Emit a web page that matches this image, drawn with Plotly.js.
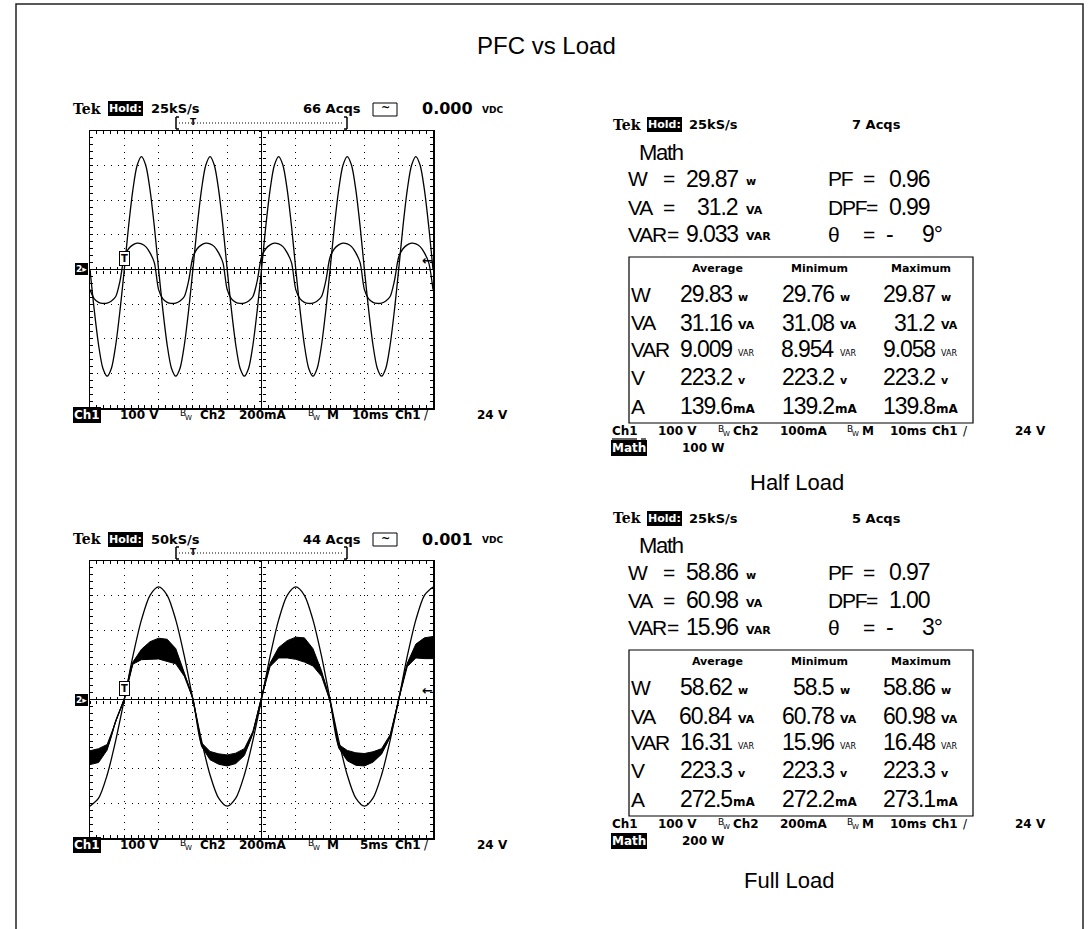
<!DOCTYPE html>
<html><head><meta charset="utf-8">
<script src="https://cdn.plot.ly/plotly-3.0.1.min.js"></script>
<style>html,body{margin:0;padding:0;background:#fff}#chart{width:1090px;height:929px}</style>
</head><body><div id="chart"></div>
<script>
// ---------------- DATA ----------------
// Half load scope: 10 ms/div, samples every 1.25 ms, Ch1 voltage (V), Ch2 current (mA)
const halfVoltage = [
  0,-118,-218,-285,-308,-285,-218,-118, 0,125,230,301,326,301,230,125,
  0,-118,-218,-285,-308,-285,-218,-118, 0,125,230,301,326,301,230,125,
  0,-118,-218,-285,-308,-285,-218,-118, 0,125,230,301,326,301,230,125,
  0,-118,-218,-285,-308,-285,-218,-118, 0,125,230,301,326,301,230,125,
  0,-118,-218,-285,-308,-285,-218,-118, 0,125,230,301,326,301,230,125,
  0];
const halfCurrent = [
  -116,-170,-190,-196,-194,-182,-156,-66, 72,120,142,152,148,132,96,40,
  -116,-170,-190,-196,-194,-182,-156,-66, 72,120,142,152,148,132,96,40,
  -116,-170,-190,-196,-194,-182,-156,-66, 72,120,142,152,148,132,96,40,
  -116,-170,-190,-196,-194,-182,-156,-66, 72,120,142,152,148,132,96,40,
  -116,-170,-190,-196,-194,-182,-156,-66, 72,120,142,152,148,132,96,40,
  -116];
// Full load scope: 5 ms/div, samples every 1.25 ms
const fullVoltage = [
  -308,-285,-218,-118,0,125,230,301,325,301,230,125,0,-118,-218,-285,
  -308,-285,-218,-118,0,125,230,301,325,301,230,125,0,-118,-218,-285,
  -308,-285,-218,-118,0,125,230,301,325];
const fullCurrent = [
  -336,-324,-276,-124,4,210,260,284,294,284,250,144,4,-260,-324,-344,
  -352,-340,-304,-190,10,200,270,290,296,286,244,150,-10,-270,-324,-344,
  -348,-332,-300,-210,0,200,280,296,300];
const fullNoise = [
  40,40,16,0,0,6,30,50,60,64,44,10,0,10,24,30,
  32,30,20,6,0,10,30,50,64,70,50,16,0,10,30,36,
  36,30,16,6,0,10,40,60,64];

// Readout values
const metricLabels = ['W','VA','VAR','V','A'];
const metricUnits  = ['w','VA','VAR','v','mA'];
const statHeaders  = ['Average','Minimum','Maximum'];
const halfAvg = ['29.83','31.16','9.009','223.2','139.6'];
const halfMin = ['29.76','31.08','8.954','223.2','139.2'];
const halfMax = ['29.87','31.2','9.058','223.2','139.8'];
const fullAvg = ['58.62','60.84','16.31','223.3','272.5'];
const fullMin = ['58.5','60.78','15.96','223.3','272.2'];
const fullMax = ['58.86','60.98','16.48','223.3','273.1'];
const mainLabels = ['W','VA','VAR'];
const halfMain = ['29.87','31.2','9.033'];
const fullMain = ['58.86','60.98','15.96'];
const factorLabels = ['PF','DPF','θ'];
const halfFactors = ['0.96','0.99','9°'];
const fullFactors = ['0.97','1.00','3°'];

// ---------------- HELPERS ----------------
const W = 1090, H = 929;
const SF = '"DejaVu Sans", Verdana, sans-serif';
const NF = '"Liberation Sans", Arial, sans-serif';
const TF = '"Liberation Sans", Arial, sans-serif';
const annotations = [], shapes = [];
function txt(text, x, y, o) {
  o = o || {};
  annotations.push({xref:'paper', yref:'paper', x:x/W, y:1-y/H, text:text, showarrow:false,
    xanchor:o.xa||'left', yanchor:o.ya||'middle',
    font:{family:o.f||SF, size:o.s||12, color:o.c||'#000', weight:o.w||'bold'},
    bgcolor:o.bg||'rgba(0,0,0,0)', borderpad:o.bp||0,
    bordercolor:o.bc||'rgba(0,0,0,0)', borderwidth:o.bw||0});
}
// condensed-looking readout text (tighter letter spacing)
function nt(text, x, y, size, xa, ls){
  const sp = (ls===undefined)? -1.1 : ls;
  txt('<span style="letter-spacing:'+sp+'px">'+text+'</span>', x, y, {f:NF, s:size, w:'normal', xa:xa||'left'});
}
function rectPx(x0,y0,x1,y1,o){ o=o||{};
  shapes.push({type:'rect',xref:'paper',yref:'paper',x0:x0/W,x1:x1/W,y0:1-y0/H,y1:1-y1/H,
    line:{color:o.c||'#000',width:o.w||1},fillcolor:o.fill||'rgba(0,0,0,0)'}); }
function linePx(x0,y0,x1,y1,o){ o=o||{};
  shapes.push({type:'line',xref:'paper',yref:'paper',x0:x0/W,x1:x1/W,y0:1-y0/H,y1:1-y1/H,
    line:{color:o.c||'#000',width:o.w||1,dash:o.dash||'solid'}}); }
function bw(x, y){ // bandwidth-limit symbol: B with W below-right
  txt('B', x, y-2, {s:9, w:'normal'});
  txt('W', x+5, y+3, {s:7, w:'normal'});
}
function key(id){ return (id[0]==='x'?'xaxis':'yaxis') + id.slice(1); }

const layout = {width:W, height:H, margin:{l:0,r:0,t:0,b:0}, paper_bgcolor:'#fff', plot_bgcolor:'#fff',
  showlegend:false, annotations:annotations, shapes:shapes, hovermode:false};
const traces = [];

function gridAxis(range, domain, anchor, dotGap){
  return {domain:domain, anchor:anchor, range:range, dtick:1, tick0:0, showgrid:true, gridcolor:'#000',
    gridwidth:1, griddash:'1px,'+dotGap+'px', zeroline:true, zerolinecolor:'#000', zerolinewidth:1.5,
    showline:true, linecolor:'#000', linewidth:1.5, mirror:'ticks', ticks:'inside', ticklen:3,
    tickwidth:1, tickcolor:'#000', showticklabels:false, fixedrange:true,
    minor:{dtick:0.2, tick0:0, ticks:'inside', ticklen:3, tickwidth:1, tickcolor:'#000', showgrid:false}};
}
function centerAxis(over, range, pos, dir){
  return {overlaying:over, anchor:'free', position:pos, range:range, dtick:1, tick0:0, ticks:dir,
    ticklen:3, tickwidth:1, tickcolor:'#000', showgrid:false, zeroline:false, showline:false,
    showticklabels:false, fixedrange:true,
    minor:{dtick:0.2, tick0:0, ticks:dir, ticklen:3, tickwidth:1, tickcolor:'#000', showgrid:false}};
}
function dummy(xa, ya){ traces.push({type:'scatter', x:[null], y:[null], xaxis:xa, yaxis:ya, hoverinfo:'skip', showlegend:false}); }

function scope(ids, dy, cfg){
  const L=90, R=433, T=131+dy, B=408+dy, cy=(T+B)/2;
  const domX=[L/W, R/W], domY=[1-B/H, 1-T/H];
  layout[key(ids.gx)] = gridAxis([-5,5], domX, ids.gy, 5.86);
  layout[key(ids.gy)] = gridAxis([-4,4], domY, ids.gx, 5.925);
  layout[key(ids.dx)] = {overlaying:ids.gx, anchor:ids.gy, range:cfg.timeRange, visible:false, fixedrange:true};
  layout[key(ids.dv)] = {overlaying:ids.gy, anchor:ids.gx, range:[-400,400], visible:false, fixedrange:true};
  layout[key(ids.di)] = {overlaying:ids.gy, anchor:ids.gx, range:[-800,800], visible:false, fixedrange:true};
  layout[key(ids.cx1)] = centerAxis(ids.gx, [-5,5], 1-cy/H, 'outside');
  layout[key(ids.cx2)] = centerAxis(ids.gx, [-5,5], 1-cy/H, 'inside');
  layout[key(ids.cy1)] = centerAxis(ids.gy, [-4,4], ((L+R)/2)/W, 'outside');
  layout[key(ids.cy2)] = centerAxis(ids.gy, [-4,4], ((L+R)/2)/W, 'inside');
  dummy(ids.gx, ids.gy); dummy(ids.cx1, ids.gy); dummy(ids.cx2, ids.gy);
  dummy(ids.gx, ids.cy1); dummy(ids.gx, ids.cy2);

  // header
  txt('Tek', 73, 109+dy, {f:'"DejaVu Serif", serif', s:14});
  txt('Hold:', 108, 109+dy, {s:11, c:'#fff', bg:'#000', bp:1});
  txt(cfg.rate, 151, 109+dy, {s:13});
  txt(cfg.acqs, 303, 109+dy, {s:13});
  rectPx(373, 103+dy, 397, 116+dy, {w:1});
  txt('~', 385, 108+dy, {xa:'center', s:11});
  txt(cfg.vdc, 422, 109+dy, {s:16});
  txt('VDC', 482, 110+dy, {s:9});
  // memory bracket
  linePx(176,117+dy,176,129+dy,{w:1.5}); linePx(176,117+dy,179,117+dy,{w:1.5}); linePx(176,129+dy,179,129+dy,{w:1.5});
  linePx(347,117+dy,347,129+dy,{w:1.5}); linePx(344,117+dy,347,117+dy,{w:1.5}); linePx(344,129+dy,347,129+dy,{w:1.5});
  linePx(179,123+dy,344,123+dy,{w:1,dash:'1px,2px'});
  txt('T', 193, 122+dy, {xa:'center', s:9});
  // markers
  txt('2▸', 81, cy, {xa:'center', s:9, c:'#fff', bg:'#000', bp:1});
  txt('T', 124, 258+dy, {xa:'center', s:10, bg:'#fff', bc:'#000', bw:1, bp:1});
  txt('←', 427, cy-9, {xa:'center', s:13});
  // footer
  const fy = 415+dy;
  txt('Ch1', 73, fy, {s:12, c:'#fff', bg:'#000', bp:1});
  txt('100 V', 120, fy, {s:12});
  bw(180, fy);
  txt('Ch2', 200, fy, {s:12});
  txt('200mA', 239, fy, {s:12});
  bw(308, fy);
  txt('M', 327, fy, {s:12});
  txt(cfg.tdiv, 388, fy, {s:12, xa:'right'});
  txt('Ch1', 395, fy, {s:12});
  txt('/', 424, fy, {s:12, w:'normal'});
  txt('24 V', 477, fy, {s:12});
}

function readout(dy, main, factors, avg, mn, mx, acqs, ch2Scale, mathScale, underline){
  txt('Tek', 613, 125+dy, {f:'"DejaVu Serif", serif', s:14});
  txt('Hold:', 647, 125+dy, {s:11, c:'#fff', bg:'#000', bp:1});
  txt('25kS/s', 689, 125+dy, {s:13});
  txt(acqs, 852, 125+dy, {s:13});
  nt('Math', 639, 152+dy, 22, 'left', -1.3);
  const rowsY = [179, 207, 234];
  const eqX = [669, 669, 673];
  const feqX = [869, 872, 869];
  for (let i=0;i<3;i++){
    const y = rowsY[i]+dy;
    nt(mainLabels[i], 628, y, 21, 'left', -1.2);
    nt('=', eqX[i], y, 21, 'center', 0);
    nt(main[i], 738, y, 23, 'right');
    txt(metricUnits[i], 746, y+3, {s:11});
    nt(factorLabels[i], 828, y, 21, 'left', -1.2);
    nt('=', feqX[i], y, 21, 'center', 0);
    if (i<2) nt(factors[i], 930, y, 23, 'right');
    else { nt('-', 890, y, 23, 'center', 0);
           nt(factors[i], 942, y, 23, 'right'); }
  }
  rectPx(629, 257+dy, 973, 423+dy, {w:1.2});
  const colC = [717, 819, 921], colR = [732, 834, 935];
  statHeaders.forEach((h,j)=> txt(h, colC[j], 268+dy, {s:11, xa:'center'}));
  const tY = [294, 323, 349, 377, 406];
  const cols = [avg, mn, mx];
  for (let i=0;i<5;i++){
    const y = tY[i]+dy;
    nt(metricLabels[i], 631, y, 21, 'left', -1.2);
    for (let j=0;j<3;j++){
      nt(cols[j][i], colR[j], y, 23, 'right');
      const u = metricUnits[i];
      if (u==='VAR') txt(u, colR[j]+6, y+4, {s:8, w:'normal'});
      else if (u==='mA') txt(u, colR[j]+1, y+3, {s:12});
      else txt(u, colR[j]+6, y+3, {s:11});
    }
  }
  const fy = 431+dy;
  txt('Ch1', 612, fy, {s:12});
  if (underline) { linePx(612, fy+8, 637, fy+8, {w:1.2}); linePx(641, fy+8, 646, fy+8, {w:1.2}); }
  txt('100 V', 658, fy, {s:12});
  bw(718, fy);
  txt('Ch2', 733, fy, {s:12});
  txt(ch2Scale, 780, fy, {s:12});
  bw(847, fy);
  txt('M', 862, fy, {s:12});
  txt('10ms', 890, fy, {s:12});
  txt('Ch1', 932, fy, {s:12});
  txt('/', 963, fy, {s:12, w:'normal'});
  txt('24 V', 1015, fy, {s:12});
  txt('Math', 611, 448+dy, {s:12, c:'#fff', bg:'#000', bp:1});
  txt(mathScale, 682, 448+dy, {s:12});
}

// ---------------- BUILD ----------------
rectPx(16, 4, 1083, 940, {w:1.5, c:'#222'});
txt('PFC vs Load', 546, 45, {f:TF, s:24, w:'normal', xa:'center'});
txt('Half Load', 797, 482, {f:TF, s:22, w:'normal', xa:'center'});
txt('Full Load', 789, 880, {f:TF, s:22, w:'normal', xa:'center'});

scope({gx:'x', gy:'y', dx:'x2', dv:'y2', di:'y3', cx1:'x3', cx2:'x4', cy1:'y4', cy2:'y5'}, 0,
      {timeRange:[0,100], rate:'25kS/s', acqs:'66 Acqs', vdc:'0.000', tdiv:'10ms'});
scope({gx:'x5', gy:'y6', dx:'x6', dv:'y7', di:'y8', cx1:'x7', cx2:'x8', cy1:'y9', cy2:'y10'}, 430,
      {timeRange:[0,50], rate:'50kS/s', acqs:'44 Acqs', vdc:'0.001', tdiv:'5ms'});

readout(0, halfMain, halfFactors, halfAvg, halfMin, halfMax, '7 Acqs', '100mA', '100 W', true);
readout(393, fullMain, fullFactors, fullAvg, fullMin, fullMax, '5 Acqs', '200mA', '200 W', false);

const lineStyle = {color:'#000', width:1.3, shape:'spline', smoothing:0.8};
traces.push({type:'scatter', mode:'lines', x0:0, dx:1.25, y:halfVoltage, xaxis:'x2', yaxis:'y2', line:lineStyle, hoverinfo:'skip'});
traces.push({type:'scatter', mode:'lines', x0:0, dx:1.25, y:halfCurrent, xaxis:'x2', yaxis:'y3', line:lineStyle, hoverinfo:'skip'});
traces.push({type:'scatter', mode:'lines', x0:0, dx:1.25, y:fullVoltage, xaxis:'x6', yaxis:'y7', line:lineStyle, hoverinfo:'skip'});
const fullLower = fullCurrent.map((c,i)=>c-fullNoise[i]);
const fullUpper = fullCurrent.map((c,i)=>c+fullNoise[i]);
traces.push({type:'scatter', mode:'lines', x0:0, dx:1.25, y:fullLower, xaxis:'x6', yaxis:'y8', line:{color:'#000', width:1}, hoverinfo:'skip'});
traces.push({type:'scatter', mode:'lines', x0:0, dx:1.25, y:fullUpper, xaxis:'x6', yaxis:'y8', fill:'tonexty', fillcolor:'#000', line:{color:'#000', width:1}, hoverinfo:'skip'});
traces.push({type:'scatter', mode:'lines', x0:0, dx:1.25, y:fullCurrent, xaxis:'x6', yaxis:'y8', line:lineStyle, hoverinfo:'skip'});

Plotly.newPlot('chart', traces, layout, {staticPlot:true, displayModeBar:false});
</script></body></html>
